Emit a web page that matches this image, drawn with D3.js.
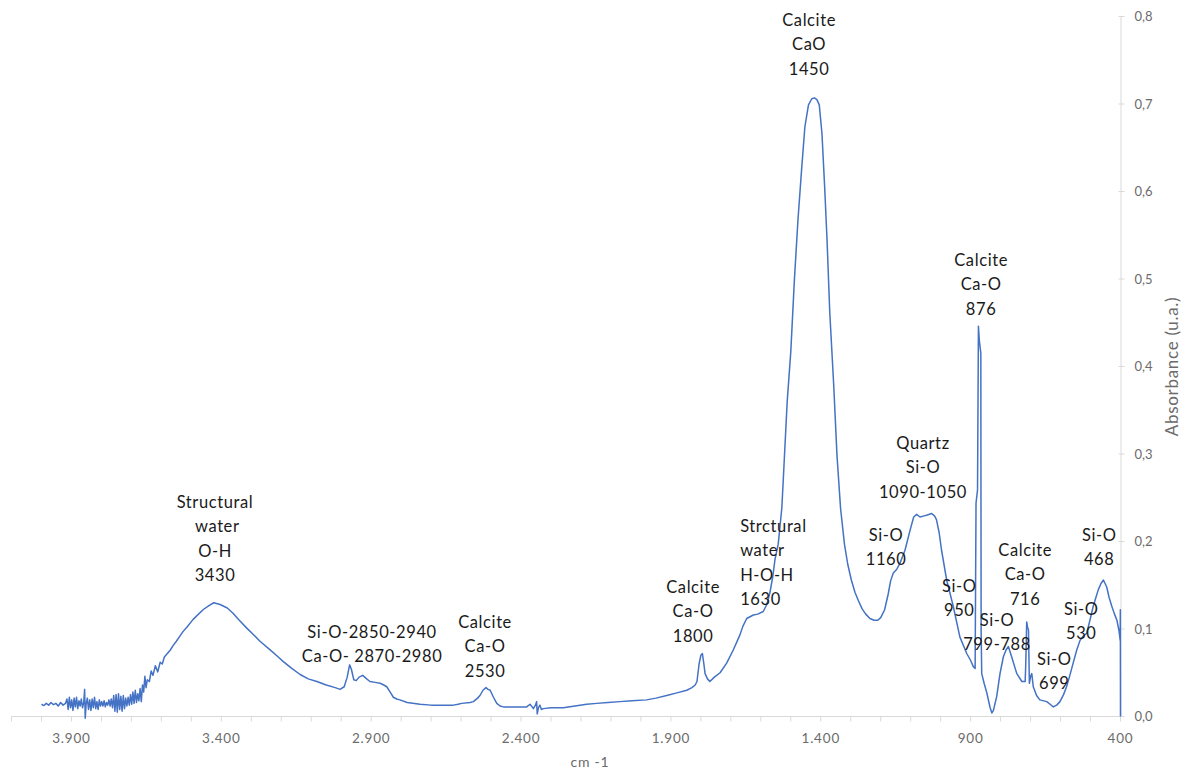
<!DOCTYPE html>
<html>
<head>
<meta charset="utf-8">
<script src="https://cdn.jsdelivr.net/npm/d3@7"></script>
<style>
  html, body { margin: 0; padding: 0; background: #ffffff; }
  svg { display: block; }
  .anno text { white-space: pre; }
</style>
</head>
<body>
<svg id="chart" width="1186" height="771"></svg>
<script>
// FTIR spectrum: wavenumber (cm-1) and absorbance (u.a.)
const wavenumber = [
  4000, 3992, 3984, 3976, 3968, 3960, 3952, 3944, 3936, 3928, 3920,
  3915, 3911, 3907, 3903, 3899, 3895, 3891, 3887, 3883, 3879, 3875, 3871, 3867, 3863, 3859,
  3856, 3854, 3851,
  3847, 3843, 3839, 3835, 3831, 3827, 3823, 3819, 3815, 3811, 3807, 3803,
  3799, 3795, 3791, 3787, 3783, 3779, 3775, 3771, 3767, 3763,
  3759, 3755, 3751, 3747, 3743, 3739, 3735, 3731, 3727, 3723, 3719, 3715, 3711, 3707,
  3703, 3699, 3695, 3691, 3687, 3683, 3679, 3675, 3671, 3667,
  3663, 3659, 3655, 3651, 3647,
  3640, 3634, 3628, 3620, 3612, 3604, 3597, 3590, 3580, 3570, 3561, 3550, 3540, 3528, 3515,
  3494, 3461, 3440, 3425, 3404, 3380, 3361, 3340, 3315, 3294, 3271, 3240, 3210, 3194, 3165,
  3137, 3110, 3081, 3050, 3020, 3004, 2990, 2980, 2972, 2966, 2958, 2950, 2940, 2928, 2915,
  2904, 2887, 2870, 2858, 2848, 2835, 2826, 2815, 2804, 2780, 2737, 2700, 2650, 2626, 2610,
  2598, 2570, 2559, 2545, 2537, 2527, 2517, 2510, 2503, 2492, 2481, 2470, 2459, 2420, 2381,
  2370, 2363, 2359, 2352, 2348, 2346, 2342, 2337, 2332, 2326, 2300, 2259, 2220, 2181, 2147,
  2110, 2070, 2030, 1981, 1950, 1914, 1880, 1847, 1830, 1819, 1813, 1806, 1800, 1795, 1790,
  1786, 1778, 1770, 1755, 1736, 1714, 1692, 1670, 1660, 1647, 1636, 1625, 1610, 1592, 1580,
  1570, 1560, 1553, 1542, 1530, 1524, 1512, 1500, 1488, 1476, 1464, 1453, 1441, 1430, 1421,
  1413, 1405, 1396, 1387, 1379, 1370, 1357, 1346, 1334, 1321, 1310, 1298, 1286, 1274, 1262,
  1250, 1236, 1222, 1210, 1200, 1187, 1175, 1167, 1158, 1147, 1136, 1119, 1102, 1090, 1080,
  1069, 1058, 1047, 1030, 1020, 1014, 1005, 997, 980, 958, 936, 913, 900, 891, 885,
  882, 877, 874, 871, 866, 865, 863, 855, 846, 835, 829, 824, 813, 802, 791,
  782, 774, 763, 746, 729, 718, 716, 713, 710, 707, 704, 700, 696, 691, 680,
  669, 646, 635, 624, 613, 602, 590, 580, 569, 558, 546, 535, 524, 513, 502,
  491, 474, 465, 457, 446, 438, 429, 420, 412, 405, 401, 400.5, 400
];
const absorbance = [
  0.014, 0.0125, 0.015, 0.013, 0.016, 0.0135, 0.015, 0.012, 0.016, 0.013, 0.015,
  0.020, 0.008, 0.022, 0.010, 0.019, 0.007, 0.021, 0.011, 0.022, 0.009, 0.018, 0.012, 0.020, 0.010, 0.016,
  0.031, -0.002, 0.014,
  0.021, 0.008, 0.019, 0.007, 0.020, 0.010, 0.022, 0.009, 0.017, 0.008, 0.019, 0.012,
  0.017, 0.012, 0.018, 0.011, 0.016, 0.013, 0.019, 0.012, 0.020, 0.010,
  0.024, 0.006, 0.025, 0.005, 0.026, 0.008, 0.023, 0.006, 0.024, 0.009, 0.021, 0.012, 0.022, 0.013,
  0.025, 0.014, 0.028, 0.015, 0.030, 0.016, 0.026, 0.018, 0.032, 0.017,
  0.036, 0.028, 0.046, 0.033, 0.042,
  0.040, 0.052, 0.047, 0.058, 0.051, 0.062, 0.060, 0.068, 0.072, 0.076, 0.081, 0.086, 0.091, 0.097, 0.102,
  0.111, 0.122, 0.127, 0.130, 0.128, 0.124, 0.118, 0.110, 0.101, 0.094, 0.086, 0.077, 0.068, 0.063, 0.055,
  0.048, 0.043, 0.040, 0.036, 0.033, 0.031, 0.034, 0.045, 0.059, 0.054, 0.042, 0.041, 0.045, 0.047, 0.043,
  0.040, 0.039, 0.038, 0.036, 0.034, 0.027, 0.022, 0.020, 0.019, 0.016, 0.014, 0.013, 0.013, 0.013, 0.014,
  0.015, 0.016, 0.017, 0.021, 0.024, 0.030, 0.033, 0.031, 0.030, 0.022, 0.015, 0.012, 0.011, 0.011, 0.011,
  0.014, 0.011, 0.009, 0.013, 0.017, 0.003, 0.010, 0.013, 0.008, 0.009, 0.010, 0.010, 0.012, 0.014, 0.015,
  0.016, 0.017, 0.018, 0.019, 0.021, 0.024, 0.027, 0.030, 0.033, 0.036, 0.040, 0.060, 0.070, 0.072, 0.060,
  0.049, 0.043, 0.040, 0.045, 0.050, 0.061, 0.076, 0.093, 0.103, 0.112, 0.114, 0.116, 0.117, 0.120, 0.128,
  0.141, 0.160, 0.179, 0.197, 0.238, 0.278, 0.360, 0.417, 0.499, 0.568, 0.625, 0.674, 0.699, 0.706, 0.707,
  0.705, 0.699, 0.666, 0.605, 0.544, 0.462, 0.380, 0.299, 0.238, 0.197, 0.174, 0.156, 0.142, 0.132, 0.123,
  0.117, 0.112, 0.110, 0.110, 0.113, 0.122, 0.140, 0.155, 0.164, 0.168, 0.175, 0.190, 0.213, 0.228, 0.231,
  0.228, 0.229, 0.230, 0.232, 0.229, 0.225, 0.210, 0.190, 0.156, 0.126, 0.091, 0.072, 0.064, 0.057, 0.055,
  0.244, 0.259, 0.446, 0.430, 0.415, 0.099, 0.049, 0.038, 0.027, 0.010, 0.004, 0.007, 0.023, 0.049, 0.068,
  0.076, 0.080, 0.068, 0.049, 0.040, 0.040, 0.061, 0.108, 0.102, 0.099, 0.038, 0.046, 0.049, 0.034, 0.024,
  0.019, 0.017, 0.014, 0.011, 0.013, 0.017, 0.025, 0.034, 0.047, 0.061, 0.076, 0.087, 0.092, 0.095, 0.110,
  0.126, 0.145, 0.152, 0.156, 0.148, 0.136, 0.126, 0.117, 0.110, 0.098, 0.087, 0.122, 0.0
];

// Axis ticks
const xMinorTicks = d3.range(400, 4101, 100);
const xLabelTicks = [3900, 3400, 2900, 2400, 1900, 1400, 900, 400];
const yTicks = [0, 0.1, 0.2, 0.3, 0.4, 0.5, 0.6, 0.7, 0.8];

// Band assignments: text lines, anchor wavenumber, absorbance of first line
const annoText = [
  ["Structural", " water", "O-H", "3430"],
  ["Si-O-2850-2940", "Ca-O- 2870-2980"],
  ["Calcite", "Ca-O", "2530"],
  ["Calcite", "Ca-O", "1800"],
  ["Strctural", "water", "H-O-H", "1630"],
  ["Calcite", "CaO", "1450"],
  ["Quartz", "Si-O", "1090-1050"],
  ["Si-O", "1160"],
  ["Calcite", "Ca-O", "876"],
  ["Si-O", "950"],
  ["Si-O", "799-788"],
  ["Calcite", "Ca-O", "716"],
  ["Si-O", "530"],
  ["Si-O", "699"],
  ["Si-O", "468"]
];
const annoWn  = [3421, 2897, 2520, 1826, 1669, 1439, 1059, 1182, 865, 938, 812, 718, 531, 621, 471];
const annoAbs = [0.245, 0.0966, 0.108, 0.148, 0.2177, 0.796, 0.3126, 0.2074, 0.5217, 0.1491, 0.1103, 0.1903, 0.1229, 0.0657, 0.2074];
const annoAlign = ["middle", "middle", "middle", "middle", "start", "middle", "middle", "middle",
                   "middle", "middle", "middle", "middle", "middle", "middle", "middle"];

const svg = d3.select("#chart");

const x = d3.scaleLinear().domain([4100, 400]).range([11.5, 1120.5]);
const y = d3.scaleLinear().domain([0, 0.8]).range([716.5, 16.5]);

const locale = d3.formatLocale({ decimal: ",", thousands: ".", grouping: [3], currency: ["", ""] });
const fmtX = locale.format(",");
const fmtY = locale.format(".1f");

const axisColor = "#d9d9d9";
const labelColor = "#6b6b6b";
const font = "Lato, 'Open Sans', sans-serif";

// X axis
const xAxis = svg.append("g").attr("class", "x-axis");
xAxis.append("line")
  .attr("x1", x(4100)).attr("x2", x(400))
  .attr("y1", y(0)).attr("y2", y(0))
  .attr("stroke", axisColor).attr("stroke-width", 1);
xAxis.selectAll("line.tick").data(xMinorTicks).join("line")
  .attr("class", "tick")
  .attr("x1", d => x(d)).attr("x2", d => x(d))
  .attr("y1", y(0)).attr("y2", y(0) + 5)
  .attr("stroke", axisColor).attr("stroke-width", 1);
xAxis.selectAll("text").data(xLabelTicks).join("text")
  .attr("x", d => x(d)).attr("y", y(0) + 26)
  .attr("text-anchor", "middle")
  .attr("font-family", font)
  .attr("font-size", 13.5)
  .attr("letter-spacing", "0.8")
  .attr("fill", labelColor)
  .text(d => fmtX(d));
svg.append("text")
  .attr("x", 590).attr("y", 767)
  .attr("text-anchor", "middle")
  .attr("font-family", font)
  .attr("font-size", 14)
  .attr("letter-spacing", "0.8")
  .attr("fill", labelColor)
  .text("cm -1");

// Y axis on the right
const yAxis = svg.append("g").attr("class", "y-axis");
yAxis.append("line")
  .attr("x1", x(400) + 0.5).attr("x2", x(400) + 0.5)
  .attr("y1", y(0.8)).attr("y2", y(0))
  .attr("stroke", axisColor).attr("stroke-width", 1);
yAxis.selectAll("line.tick").data(yTicks).join("line")
  .attr("class", "tick")
  .attr("x1", x(400) - 2).attr("x2", x(400) + 4)
  .attr("y1", d => y(d)).attr("y2", d => y(d))
  .attr("stroke", axisColor).attr("stroke-width", 1);
yAxis.selectAll("text").data(yTicks).join("text")
  .attr("x", x(400) + 14).attr("y", d => y(d))
  .attr("dy", "0.35em")
  .attr("font-family", font)
  .attr("font-size", 13)
  .attr("fill", labelColor)
  .text(d => fmtY(d));
svg.append("text")
  .attr("transform", `translate(${x(400) + 52},${y(0.4)}) rotate(-90)`)
  .attr("text-anchor", "middle")
  .attr("dy", "0.35em")
  .attr("font-family", font)
  .attr("font-size", 17)
  .attr("letter-spacing", "0.7")
  .attr("fill", labelColor)
  .text("Absorbance (u.a.)");

// Spectrum line
const points = wavenumber.map((w, i) => [w, absorbance[i]]);
const line = d3.line().x(d => x(d[0])).y(d => y(d[1]));
svg.append("path")
  .datum(points)
  .attr("fill", "none")
  .attr("stroke", "#4472c4")
  .attr("stroke-width", 1.5)
  .attr("stroke-linejoin", "round")
  .attr("d", line);

// Band labels
const lineGap = 24.5;
const anno = svg.append("g").attr("class", "anno")
  .attr("font-family", font)
  .attr("font-size", 16.5)
  .attr("letter-spacing", "0.6")
  .attr("fill", "#1a1a1a");
annoText.forEach((lines, i) => {
  const t = anno.append("text")
    .attr("text-anchor", annoAlign[i])
    .attr("x", x(annoWn[i]))
    .attr("y", y(annoAbs[i]));
  lines.forEach((s, j) => {
    t.append("tspan")
      .attr("x", x(annoWn[i]))
      .attr("y", y(annoAbs[i]) + j * lineGap)
      .attr("dy", "0.35em")
      .text(s);
  });
});
</script>
</body>
</html>
